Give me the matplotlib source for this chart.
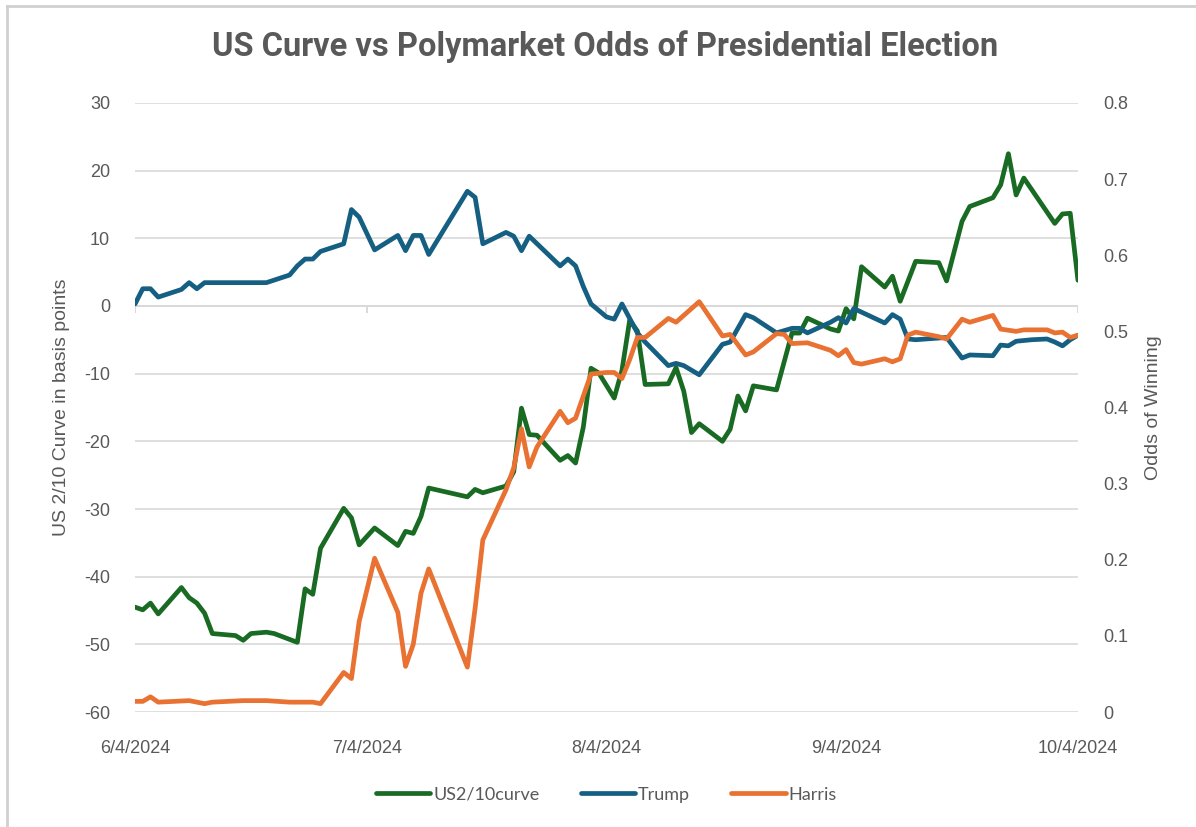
import pandas as pd
import matplotlib.pyplot as plt
from matplotlib.lines import Line2D

plt.rcParams['axes.unicode_minus'] = False

# days since 6/4/2024
start = pd.Timestamp('2024-06-04')

curve_days = [0, 1, 2, 3, 6, 7, 8, 9, 10, 13, 14, 15, 17, 18, 21, 22, 23, 24, 27, 28, 29, 31,
              34, 35, 36, 37, 38, 43, 44, 45, 48, 49, 50, 51, 52, 55, 56, 57, 58, 59, 60, 62,
              63, 64, 65, 66, 69, 70, 71, 72, 73, 76, 77, 78, 79, 80, 83, 85, 86, 87, 90, 91,
              92, 93, 94, 97, 98, 99, 101, 104, 105, 107, 108, 111, 112, 113, 114, 115, 119,
              120, 121, 122]
curve_bp = [-44.5, -44.9, -43.9, -45.5, -41.6, -43.1, -43.9, -45.4, -48.4, -48.7, -49.4, -48.4,
            -48.2, -48.4, -49.7, -41.8, -42.6, -35.8, -29.9, -31.3, -35.3, -32.8, -35.4, -33.3,
            -33.6, -31.1, -26.9, -28.2, -27.1, -27.6, -26.6, -24.5, -15.1, -19.0, -19.1, -22.8,
            -22.1, -23.2, -17.9, -9.2, -9.9, -13.6, -9.5, -2.1, -3.7, -11.6, -11.5, -9.1, -12.6,
            -18.7, -17.4, -20.0, -18.2, -13.3, -15.5, -11.8, -12.4, -4.0, -4.0, -1.8, -3.4, -3.7,
            -0.4, -1.9, 5.8, 2.8, 4.4, 0.7, 6.6, 6.4, 3.7, 12.5, 14.7, 16.0, 17.9, 22.5, 16.4,
            18.9, 12.2, 13.6, 13.7, 3.8]

trump_days = [0, 1, 2, 3, 6, 7, 8, 9, 17, 20, 21, 22, 23, 24, 27, 28, 29, 31, 34, 35, 36, 37,
              38, 43, 44, 45, 48, 49, 50, 51, 55, 56, 57, 58, 59, 61, 62, 63, 64, 65, 66, 69,
              70, 71, 73, 76, 77, 79, 80, 83, 85, 86, 87, 90, 91, 92, 93, 97, 98, 99, 100, 101,
              105, 107, 108, 111, 112, 113, 114, 116, 118, 119, 120, 121, 122]
trump_odds = [0.536, 0.556, 0.556, 0.545, 0.555, 0.564, 0.556, 0.564, 0.564, 0.574, 0.586,
              0.595, 0.595, 0.605, 0.615, 0.660, 0.650, 0.607, 0.626, 0.606, 0.626, 0.626,
              0.601, 0.684, 0.676, 0.615, 0.630, 0.625, 0.606, 0.625, 0.586, 0.595, 0.586,
              0.559, 0.536, 0.519, 0.516, 0.536, 0.517, 0.498, 0.486, 0.455, 0.458, 0.455,
              0.443, 0.483, 0.486, 0.522, 0.518, 0.498, 0.504, 0.504, 0.498, 0.512, 0.518,
              0.511, 0.530, 0.511, 0.522, 0.516, 0.490, 0.489, 0.492, 0.465, 0.469, 0.468,
              0.482, 0.481, 0.487, 0.489, 0.490, 0.486, 0.481, 0.489, 0.495]

harris_days = [0, 1, 2, 3, 7, 9, 10, 14, 17, 20, 23, 24, 27, 28, 29, 31, 34, 35, 36, 37, 38,
               43, 44, 45, 48, 49, 50, 51, 52, 55, 56, 57, 59, 61, 62, 63, 64, 65, 66, 69, 70,
               73, 76, 77, 79, 80, 83, 84, 85, 87, 90, 91, 92, 93, 94, 97, 98, 99, 100, 101,
               104, 105, 107, 108, 111, 112, 114, 115, 118, 119, 120, 121, 122]
harris_odds = [0.014, 0.014, 0.020, 0.013, 0.015, 0.011, 0.013, 0.015, 0.015, 0.013, 0.013,
               0.011, 0.052, 0.044, 0.119, 0.202, 0.131, 0.060, 0.089, 0.156, 0.188, 0.059,
               0.136, 0.226, 0.292, 0.321, 0.372, 0.322, 0.348, 0.395, 0.380, 0.386, 0.444,
               0.446, 0.446, 0.438, 0.463, 0.492, 0.492, 0.517, 0.512, 0.539, 0.494, 0.496,
               0.469, 0.473, 0.497, 0.496, 0.484, 0.485, 0.475, 0.468, 0.476, 0.459, 0.457,
               0.464, 0.460, 0.464, 0.495, 0.499, 0.493, 0.490, 0.516, 0.512, 0.521, 0.503,
               0.500, 0.502, 0.502, 0.498, 0.499, 0.492, 0.495]

month_ticks = ['2024-06-04', '2024-07-04', '2024-08-04', '2024-09-04', '2024-10-04']
month_labels = ['6/4/2024', '7/4/2024', '8/4/2024', '9/4/2024', '10/4/2024']

GREEN, BLUE, ORANGE = '#196B24', '#156082', '#E97132'
TXT = '#595959'
GRID = '#d9d9d9'


def to_dates(days):
    return start + pd.to_timedelta(days, unit='D')


fig = plt.figure(figsize=(11.96, 8.27), dpi=100)
ax = fig.add_axes([0.1129, 0.139, 0.7884, 0.7365])
ax2 = ax.twinx()

ax.plot(to_dates(curve_days), curve_bp, color=GREEN, lw=3.4, solid_capstyle='round',
        solid_joinstyle='round', label='US2/10curve', zorder=3)
ax2.plot(to_dates(trump_days), trump_odds, color=BLUE, lw=3.4, solid_capstyle='round',
         solid_joinstyle='round', label='Trump')
ax2.plot(to_dates(harris_days), harris_odds, color=ORANGE, lw=3.4, solid_capstyle='round',
         solid_joinstyle='round', label='Harris')

ticks = pd.to_datetime(month_ticks)
ax.set_xlim(ticks[0], ticks[-1])
ax.set_ylim(-60, 30)
ax.set_yticks(range(-60, 31, 10))
ax2.set_ylim(0, 0.8)
ax2.set_yticks([0, 0.1, 0.2, 0.3, 0.4, 0.5, 0.6, 0.7, 0.8])
ax2.set_yticklabels(['0', '0.1', '0.2', '0.3', '0.4', '0.5', '0.6', '0.7', '0.8'])
ax.set_xticks(ticks)
ax.set_xticklabels(month_labels)

ax.grid(axis='y', color=GRID, lw=1.2)
ax.set_axisbelow(True)
for a in (ax, ax2):
    for s in a.spines.values():
        s.set_visible(False)

# category axis crosses at zero
ax.axhline(0, color=GRID, lw=1.4, zorder=1)
ax.vlines(ticks, -1.0, 0, color=GRID, lw=1.4, zorder=1)

ax.tick_params(axis='both', length=0, labelcolor=TXT, labelsize=13)
ax.tick_params(axis='x', pad=20)
ax.tick_params(axis='y', pad=18)
ax2.tick_params(axis='y', length=0, labelcolor=TXT, labelsize=13, pad=18)
for lab in ax.get_yticklabels() + ax.get_xticklabels() + ax2.get_yticklabels():
    lab.set_family('Liberation Sans')

ax.set_ylabel('US 2/10 Curve in basis points', color=TXT, fontsize=14,
              family='Liberation Sans', labelpad=10)
ax2.set_ylabel('Odds of Winning', color=TXT, fontsize=14,
               family='Liberation Sans', labelpad=12)

fig.text(0.506, 1 - 47 / 827, 'US Curve vs Polymarket Odds of Presidential Election',
         ha='center', va='center', color=TXT, fontsize=23.5, fontweight='bold', family='Roboto')

handles = ax.get_lines()[:1] + ax2.get_lines()
leg = fig.legend(handles, [h.get_label() for h in handles], loc='center',
                 bbox_to_anchor=(0.507, 0.039), ncol=3, frameon=False,
                 handlelength=3.0, handletextpad=0.15, columnspacing=2.3,
                 prop={'family': 'Lato', 'size': 13})
for t in leg.get_texts():
    t.set_color(TXT)

# outer chart border (left and top edges visible in the reference)
fig.add_artist(Line2D([0.0055, 0.0055], [0.0, 0.9925], color='#d0d0d0', lw=2))
fig.add_artist(Line2D([0.0055, 1.0], [0.9925, 0.9925], color='#d0d0d0', lw=2))

fig.savefig('out.png', dpi=100, facecolor='white')
